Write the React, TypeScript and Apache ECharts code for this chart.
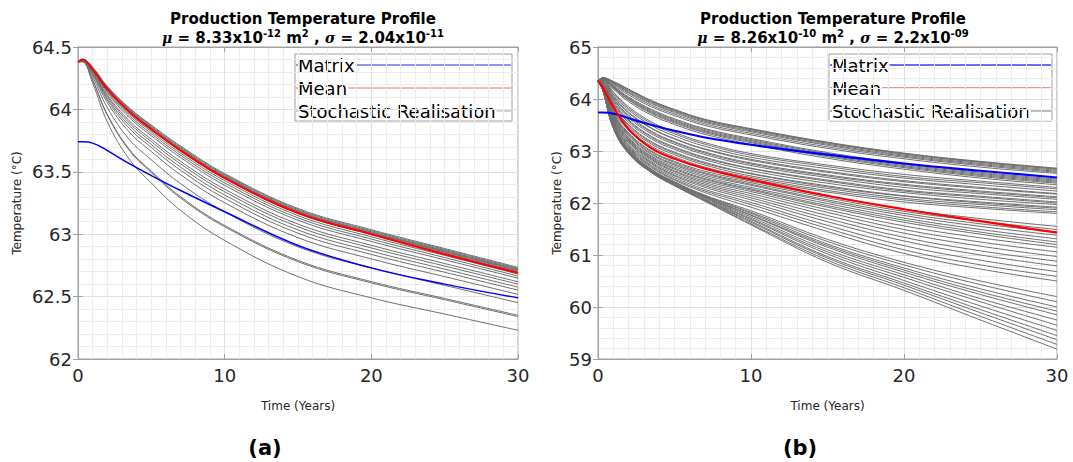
import React, { useEffect, useRef } from "react";
import * as echarts from "echarts";

const TIME = [0, 0.3, 1, 2, 3.5, 5, 7, 10, 15, 20, 25, 30];

// Panel (a)
const A_MATRIX = [63.74, 63.74, 63.73, 63.67, 63.565, 63.47, 63.35, 63.18, 62.91, 62.73, 62.6, 62.49];
const A_MEAN = [64.38, 64.4, 64.32, 64.16, 63.98, 63.84, 63.67, 63.45, 63.17, 63.0, 62.84, 62.69];
const A_REAL = [
  [64.38, 64.401, 64.337, 64.185, 64.012, 63.874, 63.706, 63.486, 63.206, 63.036, 62.885, 62.734],
  [64.38, 64.401, 64.335, 64.18, 64.005, 63.867, 63.698, 63.478, 63.198, 63.028, 62.878, 62.727],
  [64.38, 64.4, 64.333, 64.176, 63.999, 63.859, 63.69, 63.47, 63.19, 63.02, 62.87, 62.72],
  [64.38, 64.4, 64.331, 64.173, 63.994, 63.855, 63.685, 63.465, 63.185, 63.015, 62.865, 62.715],
  [64.38, 64.4, 64.33, 64.17, 63.99, 63.85, 63.68, 63.46, 63.18, 63.01, 62.86, 62.71],
  [64.38, 64.4, 64.329, 64.167, 63.986, 63.845, 63.675, 63.455, 63.175, 63.005, 62.855, 62.705],
  [64.38, 64.4, 64.327, 64.163, 63.979, 63.838, 63.667, 63.447, 63.167, 62.997, 62.848, 62.698],
  [64.38, 64.399, 64.322, 64.153, 63.964, 63.822, 63.649, 63.429, 63.149, 62.979, 62.83, 62.681],
  [64.38, 64.398, 64.318, 64.143, 63.95, 63.806, 63.632, 63.411, 63.131, 62.961, 62.813, 62.665],
  [64.38, 64.397, 64.313, 64.132, 63.934, 63.789, 63.614, 63.392, 63.112, 62.942, 62.795, 62.648],
  [64.38, 64.396, 64.305, 64.115, 63.908, 63.761, 63.583, 63.361, 63.081, 62.911, 62.765, 62.619],
  [64.38, 64.395, 64.3, 64.103, 63.891, 63.742, 63.563, 63.34, 63.06, 62.89, 62.745, 62.6],
  [64.38, 64.394, 64.294, 64.089, 63.87, 63.718, 63.537, 63.314, 63.034, 62.864, 62.72, 62.576],
  [64.38, 64.393, 64.287, 64.074, 63.848, 63.695, 63.512, 63.288, 63.008, 62.838, 62.695, 62.552],
  [64.38, 64.392, 64.278, 64.054, 63.818, 63.662, 63.476, 63.252, 62.972, 62.802, 62.66, 62.518],
  [64.38, 64.389, 64.26, 64.013, 63.758, 63.596, 63.405, 63.179, 62.899, 62.729, 62.59, 62.451],
  [64.38, 64.385, 64.235, 63.96, 63.68, 63.505, 63.3, 63.07, 62.79, 62.62, 62.485, 62.35],
  [64.38, 64.385, 64.232, 63.953, 63.671, 63.495, 63.289, 63.06, 62.78, 62.61, 62.475, 62.34],
  [64.38, 64.38, 64.21, 63.9, 63.6, 63.41, 63.19, 62.95, 62.66, 62.49, 62.36, 62.23],
];

// Panel (b)
const B_MATRIX = [63.74, 63.74, 63.72, 63.63, 63.5, 63.39, 63.26, 63.12, 62.93, 62.76, 62.62, 62.49];
const B_MEAN = [64.35, 64.22, 63.85, 63.42, 63.05, 62.85, 62.66, 62.45, 62.14, 61.88, 61.65, 61.43];
const B_REAL = [
  // top cluster
  [64.35, 64.41, 64.34, 64.19, 63.97, 63.8, 63.61, 63.43, 63.17, 62.96, 62.8, 62.67],
  [64.35, 64.41, 64.33, 64.18, 63.96, 63.79, 63.6, 63.42, 63.16, 62.95, 62.79, 62.66],
  [64.35, 64.41, 64.32, 64.17, 63.95, 63.78, 63.59, 63.41, 63.15, 62.94, 62.78, 62.65],
  [64.35, 64.4, 64.31, 64.15, 63.93, 63.76, 63.57, 63.39, 63.13, 62.92, 62.76, 62.63],
  [64.35, 64.4, 64.3, 64.13, 63.91, 63.74, 63.55, 63.37, 63.11, 62.9, 62.74, 62.61],
  [64.35, 64.4, 64.29, 64.11, 63.88, 63.71, 63.52, 63.34, 63.08, 62.88, 62.72, 62.59],
  [64.35, 64.39, 64.27, 64.08, 63.85, 63.68, 63.49, 63.31, 63.05, 62.85, 62.69, 62.57],
  // band just under the matrix curve
  [64.35, 64.39, 64.25, 64.04, 63.8, 63.62, 63.43, 63.24, 62.97, 62.76, 62.59, 62.46],
  [64.35, 64.39, 64.24, 64.02, 63.78, 63.6, 63.41, 63.22, 62.95, 62.74, 62.57, 62.44],
  [64.35, 64.38, 64.23, 64.01, 63.76, 63.58, 63.39, 63.2, 62.93, 62.72, 62.55, 62.42],
  [64.35, 64.38, 64.22, 63.99, 63.74, 63.56, 63.37, 63.18, 62.91, 62.7, 62.53, 62.4],
  [64.35, 64.38, 64.21, 63.98, 63.72, 63.54, 63.35, 63.16, 62.89, 62.68, 62.51, 62.38],
  [64.35, 64.37, 64.19, 63.95, 63.69, 63.51, 63.32, 63.13, 62.86, 62.65, 62.48, 62.35],
  // dense middle
  [64.35, 64.36, 64.14, 63.85, 63.56, 63.36, 63.16, 62.95, 62.73, 62.55, 62.42, 62.3],
  [64.35, 64.35, 64.12, 63.82, 63.53, 63.33, 63.13, 62.92, 62.7, 62.51, 62.39, 62.27],
  [64.35, 64.35, 64.09, 63.79, 63.49, 63.29, 63.09, 62.88, 62.66, 62.48, 62.35, 62.23],
  [64.35, 64.34, 64.06, 63.75, 63.44, 63.24, 63.04, 62.84, 62.61, 62.43, 62.3, 62.18],
  [64.35, 64.34, 64.04, 63.73, 63.43, 63.23, 63.03, 62.82, 62.59, 62.41, 62.28, 62.17],
  [64.35, 64.33, 64.01, 63.69, 63.38, 63.18, 62.98, 62.77, 62.54, 62.36, 62.23, 62.12],
  [64.35, 64.33, 64.0, 63.67, 63.36, 63.16, 62.96, 62.75, 62.52, 62.34, 62.21, 62.1],
  [64.35, 64.32, 63.97, 63.64, 63.33, 63.13, 62.93, 62.72, 62.49, 62.3, 62.18, 62.07],
  [64.35, 64.31, 63.94, 63.6, 63.28, 63.08, 62.88, 62.67, 62.44, 62.25, 62.13, 62.02],
  [64.35, 64.31, 63.92, 63.58, 63.26, 63.06, 62.86, 62.66, 62.42, 62.23, 62.11, 62.0],
  [64.35, 64.31, 63.9, 63.55, 63.23, 63.03, 62.83, 62.62, 62.38, 62.2, 62.07, 61.97],
  [64.35, 64.3, 63.86, 63.51, 63.18, 62.98, 62.78, 62.57, 62.33, 62.14, 62.02, 61.92],
  [64.35, 64.3, 63.85, 63.49, 63.16, 62.96, 62.76, 62.56, 62.31, 62.13, 62.0, 61.9],
  [64.35, 64.29, 63.83, 63.46, 63.13, 62.93, 62.73, 62.52, 62.28, 62.09, 61.97, 61.87],
  [64.35, 64.29, 63.8, 63.43, 63.09, 62.89, 62.69, 62.49, 62.24, 62.06, 61.93, 61.83],
  [64.35, 64.28, 63.78, 63.4, 63.06, 62.86, 62.66, 62.46, 62.21, 62.02, 61.9, 61.8],
  // around the mean
  [64.35, 64.27, 63.75, 63.35, 63.0, 62.8, 62.61, 62.42, 62.13, 61.88, 61.7, 61.55],
  [64.35, 64.27, 63.73, 63.33, 62.98, 62.78, 62.58, 62.39, 62.1, 61.84, 61.65, 61.49],
  [64.35, 64.26, 63.72, 63.31, 62.95, 62.75, 62.56, 62.36, 62.06, 61.8, 61.6, 61.44],
  [64.35, 64.26, 63.7, 63.29, 62.93, 62.73, 62.53, 62.34, 62.03, 61.76, 61.55, 61.38],
  [64.35, 64.25, 63.68, 63.26, 62.9, 62.7, 62.5, 62.3, 61.99, 61.71, 61.49, 61.31],
  [64.35, 64.25, 63.67, 63.24, 62.88, 62.67, 62.47, 62.27, 61.95, 61.67, 61.44, 61.25],
  [64.35, 64.24, 63.65, 63.22, 62.86, 62.65, 62.45, 62.25, 61.92, 61.63, 61.4, 61.2],
  // lower middle
  [64.35, 64.24, 63.63, 63.2, 62.84, 62.62, 62.42, 62.22, 61.87, 61.56, 61.33, 61.15],
  [64.35, 64.23, 63.61, 63.18, 62.82, 62.6, 62.39, 62.18, 61.82, 61.49, 61.25, 61.06],
  [64.35, 64.23, 63.59, 63.16, 62.79, 62.57, 62.36, 62.14, 61.76, 61.42, 61.17, 60.97],
  [64.35, 64.22, 63.57, 63.13, 62.77, 62.54, 62.33, 62.1, 61.7, 61.34, 61.08, 60.88],
  [64.35, 64.22, 63.56, 63.11, 62.75, 62.52, 62.3, 62.06, 61.64, 61.27, 61.0, 60.79],
  [64.35, 64.21, 63.54, 63.09, 62.72, 62.49, 62.26, 62.01, 61.57, 61.18, 60.9, 60.68],
  [64.35, 64.21, 63.52, 63.07, 62.7, 62.46, 62.23, 61.97, 61.51, 61.1, 60.81, 60.59],
  [64.35, 64.2, 63.5, 63.05, 62.68, 62.44, 62.2, 61.92, 61.45, 61.03, 60.73, 60.5],
  // bottom group
  [64.35, 64.19, 63.49, 63.03, 62.65, 62.41, 62.15, 61.85, 61.3, 60.86, 60.5, 60.2],
  [64.35, 64.19, 63.49, 63.02, 62.64, 62.4, 62.14, 61.82, 61.26, 60.81, 60.43, 60.1],
  [64.35, 64.19, 63.48, 63.01, 62.64, 62.39, 62.13, 61.8, 61.21, 60.75, 60.35, 60.0],
  [64.35, 64.19, 63.48, 63.01, 62.63, 62.39, 62.12, 61.77, 61.18, 60.71, 60.29, 59.92],
  [64.35, 64.19, 63.47, 63.0, 62.63, 62.38, 62.11, 61.76, 61.15, 60.67, 60.24, 59.85],
  [64.35, 64.19, 63.47, 62.99, 62.62, 62.37, 62.1, 61.73, 61.1, 60.62, 60.16, 59.75],
  [64.35, 64.18, 63.46, 62.99, 62.61, 62.37, 62.09, 61.7, 61.06, 60.57, 60.1, 59.65],
  [64.35, 64.18, 63.46, 62.98, 62.61, 62.36, 62.07, 61.68, 61.02, 60.51, 60.02, 59.55],
  [64.35, 64.18, 63.45, 62.97, 62.6, 62.35, 62.06, 61.65, 60.97, 60.46, 59.95, 59.45],
  [64.35, 64.18, 63.45, 62.96, 62.59, 62.34, 62.05, 61.63, 60.94, 60.42, 59.89, 59.37],
  [64.35, 64.18, 63.44, 62.96, 62.59, 62.34, 62.04, 61.6, 60.9, 60.37, 59.82, 59.28],
  [64.35, 64.18, 63.44, 62.95, 62.58, 62.33, 62.03, 61.58, 60.86, 60.32, 59.75, 59.19],
];

const X_TICKS = [0, 10, 20, 30];
const LEGEND_LABELS = ["Matrix", "Mean", "Stochastic Realisation"];
const TITLE_LINE = "Production Temperature Profile";
const A_PARAMS = { mu: "8.33", muExp: "-12", sigma: "2.04", sigmaExp: "-11" };
const B_PARAMS = { mu: "8.26", muExp: "-10", sigma: "2.2", sigmaExp: "-09" };

const FONT = '"DejaVu Sans", "Liberation Sans", sans-serif';
const AXIS_GRAY = "#a0a0a0";
const TXT = "#262626";

function pairs(arr: number[]) {
  return TIME.map((t, i) => [t, arr[i]]);
}

function measure(text: string, font: string) {
  const ctx = document.createElement("canvas").getContext("2d");
  if (!ctx) return text.length * 10;
  ctx.font = font;
  return ctx.measureText(text).width;
}

function makeTitle(p: typeof A_PARAMS, cx: number) {
  return {
    left: cx,
    top: 4,
    textAlign: "center",
    text:
      `{b|${TITLE_LINE}}\n` +
      `{i|μ}{b| = ${p.mu}x10}{s|${p.muExp}}{b| m}{s|2}{b| , }{i|σ}{b| = ${p.sigma}x10}{s|${p.sigmaExp}}`,
    textStyle: {
      rich: {
        b: { fontFamily: FONT, fontWeight: "bold", fontSize: 15, color: "#000", lineHeight: 19 },
        i: { fontFamily: '"DejaVu Serif", serif', fontStyle: "italic", fontSize: 14, color: "#000", lineHeight: 19 },
        s: { fontFamily: FONT, fontWeight: "bold", fontSize: 10, color: "#000", lineHeight: 19, verticalAlign: "top", padding: [0, 0, 6, 0] },
      },
    },
  };
}

function xAxes(gi: number, nameGap: number) {
  return [
    {
      gridIndex: gi,
      type: "value",
      min: 0,
      max: 30,
      interval: 10,
      name: "Time (Years)",
      nameLocation: "middle",
      nameGap,
      nameTextStyle: { fontFamily: FONT, fontSize: 12, color: TXT },
      axisLine: { show: true, lineStyle: { color: AXIS_GRAY } },
      axisTick: { show: true, inside: true, length: 5, lineStyle: { color: AXIS_GRAY } },
      axisLabel: { fontFamily: FONT, fontSize: 18, color: TXT, margin: 7, customValues: X_TICKS },
      splitLine: { show: true, lineStyle: { color: "#e0e0e0", width: 1 } },
      minorTick: { show: false, splitNumber: 10 },
      minorSplitLine: { show: true, lineStyle: { color: "#ededed", width: 1 } },
    },
    {
      gridIndex: gi,
      type: "value",
      position: "top",
      min: 0,
      max: 30,
      interval: 10,
      axisLine: { show: true, lineStyle: { color: AXIS_GRAY } },
      axisTick: { show: true, inside: true, length: 5, lineStyle: { color: AXIS_GRAY } },
      axisLabel: { show: false },
      splitLine: { show: false },
    },
  ];
}

function yAxes(gi: number, min: number, max: number, interval: number, nameGap: number) {
  return [
    {
      gridIndex: gi,
      type: "value",
      min,
      max,
      interval,
      name: "Temperature (°C)",
      nameLocation: "middle",
      nameGap,
      nameTextStyle: { fontFamily: FONT, fontSize: 12, color: TXT },
      axisLine: { show: true, lineStyle: { color: AXIS_GRAY } },
      axisTick: { show: true, inside: true, length: 5, lineStyle: { color: AXIS_GRAY } },
      axisLabel: { fontFamily: FONT, fontSize: 18, color: TXT, margin: 6 },
      splitLine: { show: true, lineStyle: { color: "#e0e0e0", width: 1 } },
      minorTick: { show: false, splitNumber: 5 },
      minorSplitLine: { show: true, lineStyle: { color: "#ededed", width: 1 } },
    },
    {
      gridIndex: gi,
      type: "value",
      position: "right",
      min,
      max,
      interval,
      axisLine: { show: true, lineStyle: { color: AXIS_GRAY } },
      axisTick: { show: true, inside: true, length: 5, lineStyle: { color: AXIS_GRAY } },
      axisLabel: { show: false },
      splitLine: { show: false },
    },
  ];
}

function legendGraphic(x: number, y: number, w: number, h: number, colors: string[]) {
  const rowY = [y + 11, y + 34, y + 57];
  const font = '18px "DejaVu Sans"';
  const children: any[] = [
    { type: "rect", shape: { x, y, width: w, height: h }, style: { fill: "#fff", stroke: AXIS_GRAY, lineWidth: 1 } },
  ];
  LEGEND_LABELS.forEach((label, i) => {
    const tw = measure(label, font);
    children.push({
      type: "line",
      shape: { x1: x + 1, y1: rowY[i], x2: x + 3, y2: rowY[i] },
      style: { stroke: colors[i], lineWidth: 1.3 },
    });
    children.push({
      type: "line",
      shape: { x1: x + 3 + tw + 1, y1: rowY[i], x2: x + w - 1, y2: rowY[i] },
      style: { stroke: colors[i], lineWidth: 1.3 },
    });
    children.push({
      type: "text",
      x: x + 3,
      y: rowY[i],
      style: { text: label, font, fill: "#000", verticalAlign: "middle", align: "left" },
    });
  });
  return { type: "group", z: 100, children };
}

export default function App() {
  const ref = useRef<HTMLDivElement>(null);
  useEffect(() => {
    if (!ref.current) return;
    const chart = echarts.init(ref.current, null, { renderer: "svg" });

    const series: any[] = [];
    const gray = (gi: number, arr: number[]) => ({
      type: "line",
      name: "Stochastic Realisation",
      xAxisIndex: gi * 2,
      yAxisIndex: gi * 2,
      data: pairs(arr),
      smooth: 0.4,
      showSymbol: false,
      silent: true,
      z: 2,
      lineStyle: { color: "#6f6f6f", width: 1 },
    });
    A_REAL.forEach((arr) => series.push(gray(0, arr)));
    B_REAL.forEach((arr) => series.push(gray(1, arr)));
    const colored = (gi: number, arr: number[], name: string, color: string, width: number) => ({
      type: "line",
      name,
      xAxisIndex: gi * 2,
      yAxisIndex: gi * 2,
      data: pairs(arr),
      smooth: 0.4,
      showSymbol: false,
      silent: true,
      z: 3,
      lineStyle: { color, width },
    });
    series.push(colored(0, A_MATRIX, "Matrix", "#0000ff", 1.5));
    series.push(colored(0, A_MEAN, "Mean", "#ff0000", 2));
    series.push(colored(1, B_MATRIX, "Matrix", "#0000ff", 2.2));
    series.push(colored(1, B_MEAN, "Mean", "#ff0000", 2.2));

    chart.setOption({
      animation: false,
      backgroundColor: "#ffffff",
      title: [makeTitle(A_PARAMS, 298), makeTitle(B_PARAMS, 828)],
      grid: [
        { left: 78, top: 47, width: 440, height: 312, show: true, borderColor: AXIS_GRAY, borderWidth: 1, backgroundColor: "transparent" },
        { left: 598, top: 47, width: 459, height: 312, show: true, borderColor: AXIS_GRAY, borderWidth: 1, backgroundColor: "transparent" },
      ],
      xAxis: [...xAxes(0, 41), ...xAxes(1, 41)],
      yAxis: [...yAxes(0, 62, 64.5, 0.5, 55), ...yAxes(1, 59, 65, 1, 35)],
      series,
      graphic: [
        legendGraphic(295, 54, 217, 67, ["#6e6eff", "#ff9a9a", "#bdbdbd"]),
        legendGraphic(829, 54, 223, 67, ["#3a3aff", "#ff6a6a", "#9a9a9a"]),
        {
          type: "text",
          x: 265,
          y: 448,
          style: { text: "(a)", fontFamily: FONT, fontWeight: "bold", fontSize: 21, fill: "#000", align: "center", verticalAlign: "middle" },
        },
        {
          type: "text",
          x: 800,
          y: 448,
          style: { text: "(b)", fontFamily: FONT, fontWeight: "bold", fontSize: 21, fill: "#000", align: "center", verticalAlign: "middle" },
        },
      ],
    });
    return () => chart.dispose();
  }, []);
  return (
    <div
      ref={ref}
      style={{ position: "fixed", left: 0, top: 0, width: 1073, height: 462, background: "#fff" }}
    />
  );
}
